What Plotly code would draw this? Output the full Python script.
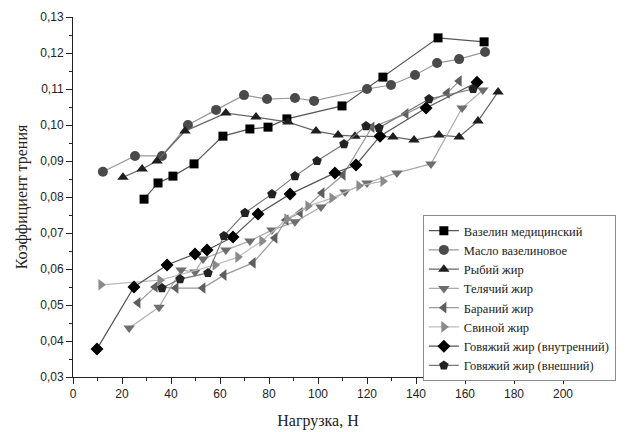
import plotly.graph_objects as go

# ---- data ----
vas_x = [29.0, 34.7, 40.8, 49.4, 61.2, 72.2, 79.6, 87.3, 109.8, 126.5, 149.0, 167.8]
vas_y = [0.0794, 0.0839, 0.0858, 0.0892, 0.0969, 0.0989, 0.0994, 0.1017, 0.1053, 0.1133, 0.1242, 0.1231]

oil_x = [12.2, 25.3, 36.3, 46.9, 58.4, 69.8, 79.2, 90.6, 98.4, 120.0, 129.8, 139.6, 148.6, 157.6, 168.2]
oil_y = [0.0870, 0.0914, 0.0914, 0.1000, 0.1042, 0.1083, 0.1072, 0.1075, 0.1067, 0.1100, 0.1111, 0.1139, 0.1172, 0.1183, 0.1203]

fish_x = [20.4, 28.2, 34.3, 45.7, 62.4, 74.7, 87.8, 99.2, 108.2, 115.1, 130.6, 139.2, 149.4, 157.6, 165.3, 173.5]
fish_y = [0.0855, 0.0878, 0.0900, 0.0983, 0.1033, 0.1022, 0.1008, 0.0983, 0.0972, 0.0969, 0.0967, 0.0958, 0.0972, 0.0967, 0.1011, 0.1092]

veal_x = [22.9, 35.1, 44.1, 49.8, 53.1, 62.4, 72.2, 81.2, 90.6, 101.2, 111.0, 120.0, 132.2, 146.1, 158.8, 167.3]
veal_y = [0.0436, 0.0494, 0.0597, 0.0592, 0.0628, 0.0653, 0.0678, 0.0708, 0.0731, 0.0772, 0.0814, 0.0839, 0.0867, 0.0892, 0.1047, 0.1097]

mutton_x = [26.5, 33.5, 42.0, 53.0, 61.6, 73.5, 82.4, 86.9, 92.7, 101.6, 110.2, 122.0, 135.9, 152.7, 157.6]
mutton_y = [0.0506, 0.0550, 0.0547, 0.0547, 0.0583, 0.0617, 0.0686, 0.0736, 0.0756, 0.0811, 0.0861, 0.0994, 0.1031, 0.1089, 0.1122]

pork_x = [11.4, 35.5, 58.0, 67.3, 77.1, 87.3, 95.9, 105.7, 116.7, 126.5]
pork_y = [0.0556, 0.0569, 0.0611, 0.0633, 0.0678, 0.0739, 0.0775, 0.0797, 0.0831, 0.0844]

beef_in_x = [9.8, 24.9, 38.4, 49.8, 54.7, 65.3, 75.5, 88.6, 106.9, 115.5, 125.3, 144.1, 164.9]
beef_in_y = [0.0378, 0.0550, 0.0611, 0.0642, 0.0653, 0.0689, 0.0753, 0.0808, 0.0867, 0.0889, 0.0969, 0.1047, 0.1119]

beef_out_x = [36.3, 43.7, 55.1, 61.6, 70.2, 81.2, 90.6, 99.6, 110.6, 119.6, 124.9, 145.3, 163.3]
beef_out_y = [0.0547, 0.0572, 0.0589, 0.0692, 0.0756, 0.0808, 0.0858, 0.0900, 0.0947, 0.0997, 0.0992, 0.1072, 0.1100]

names = ["Вазелин медицинский", "Масло вазелиновое", "Рыбий жир", "Телячий жир",
         "Бараний жир", "Свиной жир", "Говяжий жир (внутренний)", "Говяжий жир (внешний)"]

series = [(vas_x, vas_y), (oil_x, oil_y), (fish_x, fish_y), (veal_x, veal_y),
          (mutton_x, mutton_y), (pork_x, pork_y), (beef_in_x, beef_in_y), (beef_out_x, beef_out_y)]

symbols = ["square", "circle", "triangle-up", "triangle-down", "triangle-left",
           "triangle-right", "diamond", "pentagon"]
mcolors = ["#000000", "#4a4a4a", "#1e1e1e", "#6e6e6e", "#5e5e5e", "#8a8a8a", "#000000", "#222222"]
lcolors = ["#555555", "#999999", "#666666", "#aaaaaa", "#999999", "#bbbbbb", "#555555", "#777777"]
msizes = [9, 10, 10, 10, 10, 10, 10, 10]

SERIF = "Times New Roman, Liberation Serif, DejaVu Serif, serif"
SANS = "Arial, Liberation Sans, sans-serif"

fig = go.Figure()
for (xs, ys), nm, sym, mc, lc, ms in zip(series, names, symbols, mcolors, lcolors, msizes):
    fig.add_trace(go.Scatter(
        x=xs, y=ys, name=nm, mode="lines+markers",
        line=dict(color=lc, width=1.2),
        marker=dict(symbol=sym, size=ms, color=mc, line=dict(width=0)),
    ))

fig.update_layout(
    width=632, height=432,
    margin=dict(l=73, r=69, t=17, b=55, autoexpand=False),
    paper_bgcolor="white", plot_bgcolor="white",
    separators=", ",
    showlegend=True,
    legend=dict(
        x=0.714, y=0.45, xanchor="left", yanchor="top",
        bordercolor="#8c8c8c", borderwidth=1, bgcolor="white",
        font=dict(family=SERIF, size=12.5, color="#222"),
        tracegroupgap=0, itemwidth=30,
    ),
    font=dict(family=SANS, size=12, color="#222"),
)

fig.update_xaxes(
    range=[0, 200], tick0=0, dtick=20, ticks="outside", ticklen=6, tickwidth=1,
    tickcolor="#222", showline=True, linecolor="#222", linewidth=1,
    showgrid=False, zeroline=False,
    minor=dict(dtick=10, ticks="outside", ticklen=3, tickcolor="#222", showgrid=False),
    tickfont=dict(family=SANS, size=12, color="#222"),
    title=dict(text="Нагрузка, Н", font=dict(family=SERIF, size=16, color="#222"), standoff=14),
)
fig.update_yaxes(
    range=[0.03, 0.13], tick0=0.03, dtick=0.01, tickformat=".2f",
    ticks="outside", ticklen=6, tickwidth=1, tickcolor="#222",
    showline=True, linecolor="#222", linewidth=1, showgrid=False, zeroline=False,
    minor=dict(dtick=0.005, ticks="outside", ticklen=3, tickcolor="#222", showgrid=False),
    tickfont=dict(family=SANS, size=12, color="#222"),
    title=dict(text="Коэффициент трения", font=dict(family=SERIF, size=16, color="#222"), standoff=8),
)

fig.write_html("out.html")
